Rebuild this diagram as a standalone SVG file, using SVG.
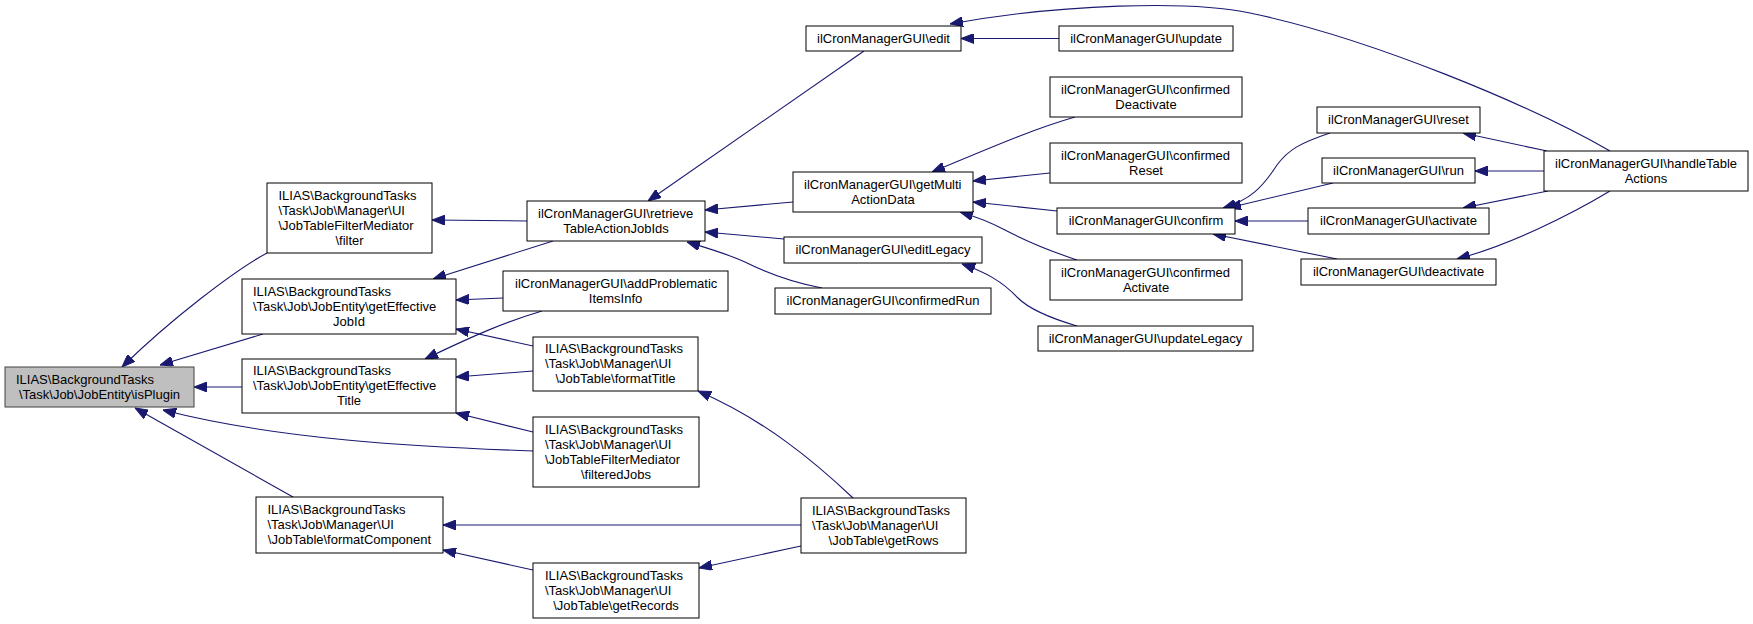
<svg xmlns="http://www.w3.org/2000/svg" width="1753" height="624" viewBox="0 0 1753 624">
<style>
.n rect{fill:#fff;stroke:#000;stroke-width:1}
.n text{font-family:"Liberation Sans",Arial,Helvetica,sans-serif;font-size:13px;fill:#000}
.m{text-anchor:middle}
.e path{fill:none;stroke:#191970;stroke-width:1.1;marker-end:url(#a)}
</style>
<defs>
<marker id="a" markerUnits="userSpaceOnUse" viewBox="0 0 13 10" markerWidth="13" markerHeight="10" refX="13" refY="5" orient="auto">
<path d="M0,0 L13,5 L0,10 z" fill="#191970" stroke="#191970" stroke-width="1"/>
</marker>
</defs>
<rect width="1753" height="624" fill="#fff"/>
<g class="e" id="edges">
<path d="M267,253 C235,270 170,320 122,367"/>
<path d="M263,334 L160,365"/>
<path d="M242,387 L194,387"/>
<path d="M533,451 C420,447 280,440 163,410"/>
<path d="M293,497 L135,408"/>
<path d="M527,221 L432,220"/>
<path d="M553,241 L433,279"/>
<path d="M503,298 L456,300"/>
<path d="M542,311 C505,322 475,335 425,359"/>
<path d="M533,346 L456,329"/>
<path d="M533,371 L456,377"/>
<path d="M533,432 L456,413"/>
<path d="M801,525 L443,525"/>
<path d="M533,570 L443,550"/>
<path d="M801,546 L699,568"/>
<path d="M853,498 C815,462 765,420 698,391"/>
<path d="M864,51 L648,201"/>
<path d="M793,202 L705,210"/>
<path d="M784,239 L705,232"/>
<path d="M822,288 C790,282 765,272 745,262 C725,253 710,249 687,242"/>
<path d="M1610,151 C1530,105 1370,38 1250,13 C1190,0 1060,4 950,24"/>
<path d="M1059,38.5 L961,38.5"/>
<path d="M1075,117 C1030,130 985,150 932,172"/>
<path d="M1050,173 L973,181"/>
<path d="M1057,211 L973,202"/>
<path d="M1077,260 C1050,251 1028,242 1005,230 C990,222 977,217 960,212"/>
<path d="M1077,326 C1050,318 1030,310 1018,298 C1002,281 985,272 962,264"/>
<path d="M1330,133 C1300,143 1288,150 1277,165 C1262,188 1250,200 1223,208"/>
<path d="M1333,183 L1228,208"/>
<path d="M1308,221 L1235,221"/>
<path d="M1337,259 L1213,234"/>
<path d="M1547,151 L1463,133"/>
<path d="M1544,171 L1475,171"/>
<path d="M1548,191 L1463,208"/>
<path d="M1610,191 C1570,215 1510,245 1457,259"/>
</g>
<g class="n" id="isPlugin"><rect x="5" y="367" width="189" height="40" style="fill:#bfbfbf;stroke:#404040"/><text x="16" y="383.5">ILIAS\BackgroundTasks</text><text class="m" x="99.5" y="398.5">\Task\Job\JobEntity\isPlugin</text></g>
<g class="n" id="filter"><rect x="267" y="183" width="165" height="70"/><text x="278.5" y="199.5">ILIAS\BackgroundTasks</text><text x="278.5" y="214.5">\Task\Job\Manager\UI</text><text x="278.5" y="229.5">\JobTableFilterMediator</text><text class="m" x="349.5" y="244.5">\filter</text></g>
<g class="n" id="getEffectiveJobId"><rect x="242" y="279" width="214" height="55"/><text x="253" y="295.5">ILIAS\BackgroundTasks</text><text x="253" y="310.5">\Task\Job\JobEntity\getEffective</text><text class="m" x="349" y="325.5">JobId</text></g>
<g class="n" id="getEffectiveTitle"><rect x="242" y="359" width="214" height="54"/><text x="253" y="375">ILIAS\BackgroundTasks</text><text x="253" y="390">\Task\Job\JobEntity\getEffective</text><text class="m" x="349" y="405">Title</text></g>
<g class="n" id="formatComponent"><rect x="256" y="497" width="187" height="56"/><text x="267.5" y="514">ILIAS\BackgroundTasks</text><text x="267.5" y="529">\Task\Job\Manager\UI</text><text class="m" x="349.5" y="544">\JobTable\formatComponent</text></g>
<g class="n" id="retrieveTableActionJobIds"><rect x="527" y="201" width="178" height="40"/><text x="538" y="217.5">ilCronManagerGUI\retrieve</text><text class="m" x="616" y="232.5">TableActionJobIds</text></g>
<g class="n" id="addProblematicItemsInfo"><rect x="503" y="271" width="225" height="40"/><text x="515" y="287.5">ilCronManagerGUI\addProblematic</text><text class="m" x="615.5" y="302.5">ItemsInfo</text></g>
<g class="n" id="formatTitle"><rect x="533" y="337" width="165" height="54"/><text x="545" y="353">ILIAS\BackgroundTasks</text><text x="545" y="368">\Task\Job\Manager\UI</text><text class="m" x="615.5" y="383">\JobTable\formatTitle</text></g>
<g class="n" id="filteredJobs"><rect x="533" y="417" width="166" height="70"/><text x="545" y="433.5">ILIAS\BackgroundTasks</text><text x="545" y="448.5">\Task\Job\Manager\UI</text><text x="545" y="463.5">\JobTableFilterMediator</text><text class="m" x="616" y="478.5">\filteredJobs</text></g>
<g class="n" id="getRecords"><rect x="533" y="563" width="166" height="55"/><text x="545" y="579.5">ILIAS\BackgroundTasks</text><text x="545" y="594.5">\Task\Job\Manager\UI</text><text class="m" x="616" y="609.5">\JobTable\getRecords</text></g>
<g class="n" id="edit"><rect x="806" y="26" width="155" height="25"/><text class="m" x="883.5" y="42.5">ilCronManagerGUI\edit</text></g>
<g class="n" id="getMultiActionData"><rect x="793" y="172" width="180" height="40"/><text x="804" y="188.5">ilCronManagerGUI\getMulti</text><text class="m" x="883" y="203.5">ActionData</text></g>
<g class="n" id="editLegacy"><rect x="784" y="237" width="198" height="26"/><text class="m" x="883" y="254">ilCronManagerGUI\editLegacy</text></g>
<g class="n" id="confirmedRun"><rect x="775" y="288" width="216" height="26"/><text class="m" x="883" y="305">ilCronManagerGUI\confirmedRun</text></g>
<g class="n" id="getRows"><rect x="801" y="498" width="165" height="55"/><text x="812" y="514.5">ILIAS\BackgroundTasks</text><text x="812" y="529.5">\Task\Job\Manager\UI</text><text class="m" x="883.5" y="544.5">\JobTable\getRows</text></g>
<g class="n" id="update"><rect x="1059" y="26" width="174" height="25"/><text class="m" x="1146" y="42.5">ilCronManagerGUI\update</text></g>
<g class="n" id="confirmedDeactivate"><rect x="1050" y="77" width="192" height="40"/><text x="1061" y="93.5">ilCronManagerGUI\confirmed</text><text class="m" x="1146" y="108.5">Deactivate</text></g>
<g class="n" id="confirmedReset"><rect x="1050" y="143" width="192" height="40"/><text x="1061" y="159.5">ilCronManagerGUI\confirmed</text><text class="m" x="1146" y="174.5">Reset</text></g>
<g class="n" id="confirm"><rect x="1057" y="208" width="178" height="26"/><text class="m" x="1146" y="225">ilCronManagerGUI\confirm</text></g>
<g class="n" id="confirmedActivate"><rect x="1050" y="260" width="192" height="40"/><text x="1061" y="276.5">ilCronManagerGUI\confirmed</text><text class="m" x="1146" y="291.5">Activate</text></g>
<g class="n" id="updateLegacy"><rect x="1038" y="326" width="215" height="25"/><text class="m" x="1145.5" y="342.5">ilCronManagerGUI\updateLegacy</text></g>
<g class="n" id="reset"><rect x="1317" y="107" width="163" height="26"/><text class="m" x="1398.5" y="124">ilCronManagerGUI\reset</text></g>
<g class="n" id="run"><rect x="1322" y="158" width="153" height="25"/><text class="m" x="1398.5" y="174.5">ilCronManagerGUI\run</text></g>
<g class="n" id="activate"><rect x="1308" y="208" width="181" height="26"/><text class="m" x="1398.5" y="225">ilCronManagerGUI\activate</text></g>
<g class="n" id="deactivate"><rect x="1301" y="259" width="195" height="26"/><text class="m" x="1398.5" y="276">ilCronManagerGUI\deactivate</text></g>
<g class="n" id="handleTableActions"><rect x="1544" y="151" width="204" height="40"/><text x="1555" y="167.5">ilCronManagerGUI\handleTable</text><text class="m" x="1646" y="182.5">Actions</text></g>
</svg>
